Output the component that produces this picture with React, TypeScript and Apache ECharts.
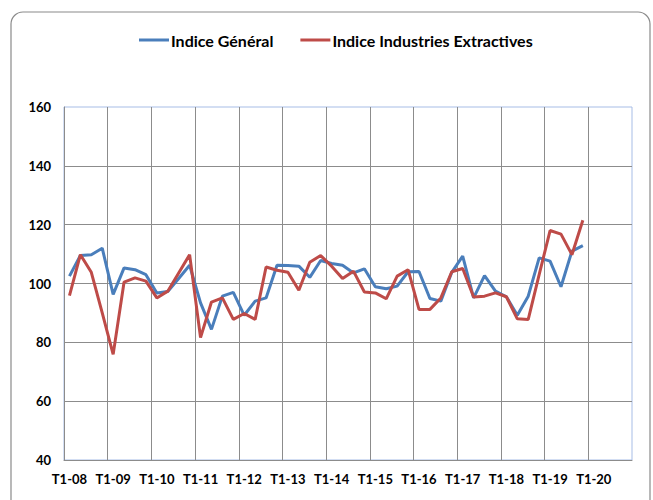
import React, { useEffect, useRef } from "react";
import * as echarts from "echarts";

const categories = [
  "T1-08", "T2-08", "T3-08", "T4-08",
  "T1-09", "T2-09", "T3-09", "T4-09",
  "T1-10", "T2-10", "T3-10", "T4-10",
  "T1-11", "T2-11", "T3-11", "T4-11",
  "T1-12", "T2-12", "T3-12", "T4-12",
  "T1-13", "T2-13", "T3-13", "T4-13",
  "T1-14", "T2-14", "T3-14", "T4-14",
  "T1-15", "T2-15", "T3-15", "T4-15",
  "T1-16", "T2-16", "T3-16", "T4-16",
  "T1-17", "T2-17", "T3-17", "T4-17",
  "T1-18", "T2-18", "T3-18", "T4-18",
  "T1-19", "T2-19", "T3-19", "T4-19",
  "T1-20", "T2-20", "T3-20", "T4-20",
];

const indiceGeneral = [
  102.5, 109.5, 109.8, 112.0, 96.3, 105.3, 104.7, 103.0,
  96.8, 97.3, 101.7, 106.2, 93.4, 84.4, 95.7, 97.0,
  89.2, 94.0, 95.1, 106.2, 106.1, 105.9, 102.1, 107.8,
  106.8, 106.2, 103.6, 105.0, 98.9, 98.2, 99.1, 104.0,
  104.1, 94.9, 94.0, 103.8, 109.3, 95.1, 102.7, 97.4,
  95.5, 89.2, 95.7, 108.7, 107.6, 98.9, 111.0, 112.9,
];

const indiceExtractives = [
  95.9, 109.8, 103.8, 90.0, 75.9, 100.5, 101.9, 100.8,
  95.1, 97.4, 103.6, 109.8, 81.6, 93.7, 95.1, 87.8,
  89.8, 87.8, 105.6, 104.5, 103.8, 97.7, 107.2, 109.5,
  105.9, 101.7, 104.2, 97.1, 96.8, 94.8, 102.5, 104.7,
  91.2, 91.2, 95.1, 104.0, 105.1, 95.4, 95.7, 96.8,
  95.5, 88.0, 87.8, 103.0, 118.0, 116.8, 109.8, 121.5,
];

const yTicks = { min: 40, max: 160, interval: 20 };

export default function App() {
  const ref = useRef<HTMLDivElement>(null);
  useEffect(() => {
    if (!ref.current) return;
    const chart = echarts.init(ref.current, null, { renderer: "svg" });
    const font = "Lato, 'Open Sans', sans-serif";
    chart.setOption({
      animation: false,
      backgroundColor: "#ffffff",
      graphic: [
        {
          type: "rect",
          shape: { x: 11, y: 12, width: 639, height: 520, r: 12 },
          style: { fill: "none", stroke: "#8a8a8a", lineWidth: 1.2 },
          z: 0,
        },
      ],
      legend: {
        top: 27,
        left: 134,
        itemWidth: 30,
        itemHeight: 16,
        itemGap: 27,
        textStyle: { fontFamily: font, fontWeight: "bold", fontSize: 16, color: "#000", padding: [0, 0, 0, -3] },
        data: [
          { name: "Indice Général", icon: "path://M0,6.5h30v3h-30z" },
          { name: "Indice Industries Extractives", icon: "path://M0,6.5h30v3h-30z" },
        ],
      },
      grid: {
        left: 64,
        top: 107,
        right: 21,
        bottom: 40,
        show: true,
        borderColor: "#a7bde6",
        borderWidth: 1,
      },
      xAxis: {
        type: "category",
        data: categories,
        boundaryGap: true,
        axisLine: { show: true, lineStyle: { color: "#8c8c8c", width: 1 } },
        axisTick: { show: false },
        axisLabel: {
          interval: 3,
          margin: 12,
          fontFamily: font,
          fontWeight: "bold",
          fontSize: 13,
          color: "#000",
        },
        splitLine: {
          show: true,
          interval: 3,
          showMaxLine: false,
          lineStyle: { color: "#8c8c8c", width: 1 },
        },
      },
      yAxis: {
        type: "value",
        min: yTicks.min,
        max: yTicks.max,
        interval: yTicks.interval,
        axisLine: { show: true, lineStyle: { color: "#8c8c8c", width: 1 } },
        axisTick: { show: false },
        axisLabel: {
          margin: 13,
          fontFamily: font,
          fontWeight: "bold",
          fontSize: 13,
          color: "#000",
        },
        splitLine: {
          show: true,
          showMaxLine: false,
          lineStyle: { color: "#8c8c8c", width: 1 },
        },
      },
      series: [
        {
          name: "Indice Général",
          type: "line",
          data: indiceGeneral,
          symbol: "none",
          lineStyle: { color: "#4a7ebb", width: 3 },
          itemStyle: { color: "#4a7ebb" },
          z: 3,
        },
        {
          name: "Indice Industries Extractives",
          type: "line",
          data: indiceExtractives,
          symbol: "none",
          lineStyle: { color: "#be4b48", width: 3 },
          itemStyle: { color: "#be4b48" },
          z: 4,
        },
      ],
    });
    return () => chart.dispose();
  }, []);
  return (
    <div
      ref={ref}
      style={{ position: "fixed", left: 0, top: 0, width: 653, height: 500 }}
    />
  );
}
